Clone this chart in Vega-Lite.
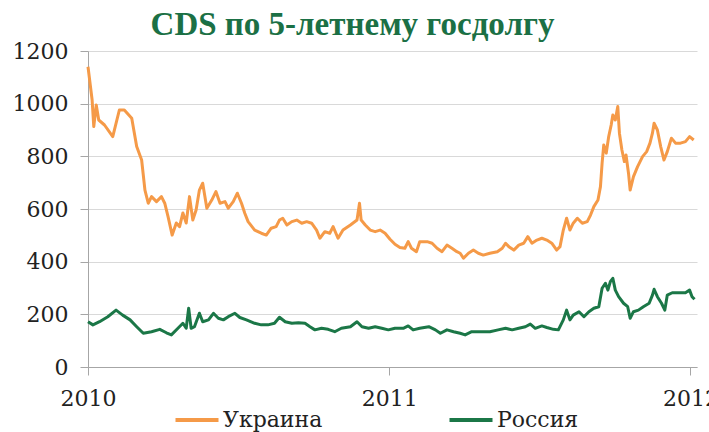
{
  "$schema": "https://vega.github.io/schema/vega-lite/v6.json",
  "autosize": {"type": "none"},
  "padding": {"left": 88, "top": 51, "right": 12, "bottom": 65},
  "width": 609,
  "height": 316,
  "background": "white",
  "title": {"text": "CDS по 5-летнему госдолгу", "font": "Liberation Serif", "fontSize": 33, "fontWeight": "bold", "color": "#1B7045", "anchor": "middle", "frame": "group", "dx": -40, "offset": -2},
  "data": {"values": [
    {"date":"2010-01-01","series":"Украина","cds":1140},
    {"date":"2010-01-06","series":"Украина","cds":1014},
    {"date":"2010-01-08","series":"Украина","cds":913},
    {"date":"2010-01-11","series":"Украина","cds":995},
    {"date":"2010-01-14","series":"Украина","cds":938},
    {"date":"2010-01-21","series":"Украина","cds":919},
    {"date":"2010-01-31","series":"Украина","cds":875},
    {"date":"2010-02-08","series":"Украина","cds":976},
    {"date":"2010-02-14","series":"Украина","cds":976},
    {"date":"2010-02-23","series":"Украина","cds":945},
    {"date":"2010-03-01","series":"Украина","cds":837},
    {"date":"2010-03-07","series":"Украина","cds":786},
    {"date":"2010-03-11","series":"Украина","cds":672},
    {"date":"2010-03-15","series":"Украина","cds":622},
    {"date":"2010-03-19","series":"Украина","cds":647},
    {"date":"2010-03-25","series":"Украина","cds":628},
    {"date":"2010-03-31","series":"Украина","cds":647},
    {"date":"2010-04-04","series":"Украина","cds":622},
    {"date":"2010-04-08","series":"Украина","cds":571},
    {"date":"2010-04-13","series":"Украина","cds":501},
    {"date":"2010-04-18","series":"Украина","cds":547},
    {"date":"2010-04-22","series":"Украина","cds":533},
    {"date":"2010-04-26","series":"Украина","cds":585},
    {"date":"2010-04-30","series":"Украина","cds":547},
    {"date":"2010-05-04","series":"Украина","cds":647},
    {"date":"2010-05-08","series":"Украина","cds":558},
    {"date":"2010-05-12","series":"Украина","cds":596},
    {"date":"2010-05-16","series":"Украина","cds":672},
    {"date":"2010-05-20","series":"Украина","cds":698},
    {"date":"2010-05-25","series":"Украина","cds":603},
    {"date":"2010-05-31","series":"Украина","cds":634},
    {"date":"2010-06-05","series":"Украина","cds":666},
    {"date":"2010-06-10","series":"Украина","cds":622},
    {"date":"2010-06-16","series":"Украина","cds":628},
    {"date":"2010-06-20","series":"Украина","cds":603},
    {"date":"2010-06-26","series":"Украина","cds":628},
    {"date":"2010-07-01","series":"Украина","cds":660},
    {"date":"2010-07-06","series":"Украина","cds":622},
    {"date":"2010-07-10","series":"Украина","cds":584},
    {"date":"2010-07-14","series":"Украина","cds":552},
    {"date":"2010-07-22","series":"Украина","cds":520},
    {"date":"2010-07-30","series":"Украина","cds":508},
    {"date":"2010-08-05","series":"Украина","cds":501},
    {"date":"2010-08-11","series":"Украина","cds":527},
    {"date":"2010-08-17","series":"Украина","cds":533},
    {"date":"2010-08-21","series":"Украина","cds":558},
    {"date":"2010-08-25","series":"Украина","cds":565},
    {"date":"2010-08-30","series":"Украина","cds":539},
    {"date":"2010-09-05","series":"Украина","cds":552},
    {"date":"2010-09-11","series":"Украина","cds":558},
    {"date":"2010-09-17","series":"Украина","cds":546},
    {"date":"2010-09-23","series":"Украина","cds":552},
    {"date":"2010-09-29","series":"Украина","cds":546},
    {"date":"2010-10-05","series":"Украина","cds":520},
    {"date":"2010-10-09","series":"Украина","cds":489},
    {"date":"2010-10-15","series":"Украина","cds":514},
    {"date":"2010-10-21","series":"Украина","cds":508},
    {"date":"2010-10-25","series":"Украина","cds":533},
    {"date":"2010-10-31","series":"Украина","cds":489},
    {"date":"2010-11-06","series":"Украина","cds":520},
    {"date":"2010-11-15","series":"Украина","cds":539},
    {"date":"2010-11-23","series":"Украина","cds":558},
    {"date":"2010-11-26","series":"Украина","cds":622},
    {"date":"2010-11-28","series":"Украина","cds":558},
    {"date":"2010-12-03","series":"Украина","cds":539},
    {"date":"2010-12-09","series":"Украина","cds":520},
    {"date":"2010-12-15","series":"Украина","cds":514},
    {"date":"2010-12-21","series":"Украина","cds":520},
    {"date":"2010-12-27","series":"Украина","cds":508},
    {"date":"2011-01-02","series":"Украина","cds":485},
    {"date":"2011-01-08","series":"Украина","cds":466},
    {"date":"2011-01-14","series":"Украина","cds":454},
    {"date":"2011-01-20","series":"Украина","cds":451},
    {"date":"2011-01-24","series":"Украина","cds":476},
    {"date":"2011-01-28","series":"Украина","cds":451},
    {"date":"2011-02-03","series":"Украина","cds":438},
    {"date":"2011-02-07","series":"Украина","cds":476},
    {"date":"2011-02-16","series":"Украина","cds":476},
    {"date":"2011-02-22","series":"Украина","cds":470},
    {"date":"2011-02-28","series":"Украина","cds":451},
    {"date":"2011-03-06","series":"Украина","cds":438},
    {"date":"2011-03-12","series":"Украина","cds":463},
    {"date":"2011-03-18","series":"Украина","cds":451},
    {"date":"2011-03-24","series":"Украина","cds":438},
    {"date":"2011-03-28","series":"Украина","cds":432},
    {"date":"2011-04-01","series":"Украина","cds":413},
    {"date":"2011-04-07","series":"Украина","cds":432},
    {"date":"2011-04-13","series":"Украина","cds":444},
    {"date":"2011-04-19","series":"Украина","cds":432},
    {"date":"2011-04-25","series":"Украина","cds":425},
    {"date":"2011-05-03","series":"Украина","cds":432},
    {"date":"2011-05-12","series":"Украина","cds":438},
    {"date":"2011-05-18","series":"Украина","cds":451},
    {"date":"2011-05-22","series":"Украина","cds":470},
    {"date":"2011-05-26","series":"Украина","cds":457},
    {"date":"2011-06-01","series":"Украина","cds":444},
    {"date":"2011-06-07","series":"Украина","cds":463},
    {"date":"2011-06-13","series":"Украина","cds":470},
    {"date":"2011-06-18","series":"Украина","cds":495},
    {"date":"2011-06-23","series":"Украина","cds":470},
    {"date":"2011-06-29","series":"Украина","cds":482},
    {"date":"2011-07-05","series":"Украина","cds":489},
    {"date":"2011-07-11","series":"Украина","cds":482},
    {"date":"2011-07-17","series":"Украина","cds":470},
    {"date":"2011-07-23","series":"Украина","cds":444},
    {"date":"2011-07-27","series":"Украина","cds":457},
    {"date":"2011-07-31","series":"Украина","cds":520},
    {"date":"2011-08-04","series":"Украина","cds":565},
    {"date":"2011-08-08","series":"Украина","cds":520},
    {"date":"2011-08-12","series":"Украина","cds":546},
    {"date":"2011-08-17","series":"Украина","cds":565},
    {"date":"2011-08-23","series":"Украина","cds":546},
    {"date":"2011-08-29","series":"Украина","cds":552},
    {"date":"2011-09-02","series":"Украина","cds":577},
    {"date":"2011-09-06","series":"Украина","cds":609},
    {"date":"2011-09-11","series":"Украина","cds":634},
    {"date":"2011-09-14","series":"Украина","cds":685},
    {"date":"2011-09-16","series":"Украина","cds":774},
    {"date":"2011-09-18","series":"Украина","cds":843},
    {"date":"2011-09-21","series":"Украина","cds":812},
    {"date":"2011-09-24","series":"Украина","cds":875},
    {"date":"2011-09-27","series":"Украина","cds":919},
    {"date":"2011-09-29","series":"Украина","cds":957},
    {"date":"2011-10-02","series":"Украина","cds":938},
    {"date":"2011-10-05","series":"Украина","cds":989},
    {"date":"2011-10-07","series":"Украина","cds":888},
    {"date":"2011-10-10","series":"Украина","cds":824},
    {"date":"2011-10-13","series":"Украина","cds":780},
    {"date":"2011-10-15","series":"Украина","cds":805},
    {"date":"2011-10-18","series":"Украина","cds":736},
    {"date":"2011-10-20","series":"Украина","cds":672},
    {"date":"2011-10-24","series":"Украина","cds":723},
    {"date":"2011-10-29","series":"Украина","cds":761},
    {"date":"2011-11-04","series":"Украина","cds":799},
    {"date":"2011-11-09","series":"Украина","cds":818},
    {"date":"2011-11-13","series":"Украина","cds":850},
    {"date":"2011-11-16","series":"Украина","cds":888},
    {"date":"2011-11-18","series":"Украина","cds":926},
    {"date":"2011-11-22","series":"Украина","cds":900},
    {"date":"2011-11-26","series":"Украина","cds":837},
    {"date":"2011-11-30","series":"Украина","cds":786},
    {"date":"2011-12-04","series":"Украина","cds":818},
    {"date":"2011-12-09","series":"Украина","cds":869},
    {"date":"2011-12-14","series":"Украина","cds":850},
    {"date":"2011-12-20","series":"Украина","cds":850},
    {"date":"2011-12-26","series":"Украина","cds":856},
    {"date":"2011-12-31","series":"Украина","cds":875},
    {"date":"2012-01-05","series":"Украина","cds":862},
    {"date":"2010-01-01","series":"Россия","cds":172},
    {"date":"2010-01-07","series":"Россия","cds":160},
    {"date":"2010-01-15","series":"Россия","cds":172},
    {"date":"2010-01-25","series":"Россия","cds":191},
    {"date":"2010-02-04","series":"Россия","cds":216},
    {"date":"2010-02-12","series":"Россия","cds":197},
    {"date":"2010-02-21","series":"Россия","cds":179},
    {"date":"2010-03-01","series":"Россия","cds":153},
    {"date":"2010-03-09","series":"Россия","cds":128},
    {"date":"2010-03-19","series":"Россия","cds":134},
    {"date":"2010-03-29","series":"Россия","cds":143},
    {"date":"2010-04-06","series":"Россия","cds":130},
    {"date":"2010-04-12","series":"Россия","cds":122},
    {"date":"2010-04-20","series":"Россия","cds":147},
    {"date":"2010-04-26","series":"Россия","cds":166},
    {"date":"2010-04-30","series":"Россия","cds":147},
    {"date":"2010-05-03","series":"Россия","cds":223},
    {"date":"2010-05-06","series":"Россия","cds":147},
    {"date":"2010-05-10","series":"Россия","cds":153},
    {"date":"2010-05-16","series":"Россия","cds":204},
    {"date":"2010-05-20","series":"Россия","cds":172},
    {"date":"2010-05-27","series":"Россия","cds":179},
    {"date":"2010-06-02","series":"Россия","cds":204},
    {"date":"2010-06-08","series":"Россия","cds":185},
    {"date":"2010-06-14","series":"Россия","cds":179},
    {"date":"2010-06-20","series":"Россия","cds":191},
    {"date":"2010-06-28","series":"Россия","cds":204},
    {"date":"2010-07-04","series":"Россия","cds":188},
    {"date":"2010-07-12","series":"Россия","cds":179},
    {"date":"2010-07-22","series":"Россия","cds":166},
    {"date":"2010-07-30","series":"Россия","cds":160},
    {"date":"2010-08-07","series":"Россия","cds":160},
    {"date":"2010-08-15","series":"Россия","cds":166},
    {"date":"2010-08-21","series":"Россия","cds":189},
    {"date":"2010-08-28","series":"Россия","cds":172},
    {"date":"2010-09-05","series":"Россия","cds":166},
    {"date":"2010-09-13","series":"Россия","cds":168},
    {"date":"2010-09-21","series":"Россия","cds":166},
    {"date":"2010-09-27","series":"Россия","cds":153},
    {"date":"2010-10-03","series":"Россия","cds":141},
    {"date":"2010-10-11","series":"Россия","cds":147},
    {"date":"2010-10-19","series":"Россия","cds":143},
    {"date":"2010-10-27","series":"Россия","cds":134},
    {"date":"2010-11-04","series":"Россия","cds":147},
    {"date":"2010-11-15","series":"Россия","cds":153},
    {"date":"2010-11-23","series":"Россия","cds":172},
    {"date":"2010-11-29","series":"Россия","cds":153},
    {"date":"2010-12-07","series":"Россия","cds":147},
    {"date":"2010-12-15","series":"Россия","cds":153},
    {"date":"2010-12-23","series":"Россия","cds":147},
    {"date":"2010-12-31","series":"Россия","cds":141},
    {"date":"2011-01-08","series":"Россия","cds":147},
    {"date":"2011-01-18","series":"Россия","cds":147},
    {"date":"2011-01-24","series":"Россия","cds":156},
    {"date":"2011-01-30","series":"Россия","cds":141},
    {"date":"2011-02-07","series":"Россия","cds":147},
    {"date":"2011-02-18","series":"Россия","cds":153},
    {"date":"2011-02-26","series":"Россия","cds":141},
    {"date":"2011-03-04","series":"Россия","cds":128},
    {"date":"2011-03-12","series":"Россия","cds":141},
    {"date":"2011-03-20","series":"Россия","cds":134},
    {"date":"2011-03-28","series":"Россия","cds":128},
    {"date":"2011-04-03","series":"Россия","cds":122},
    {"date":"2011-04-11","series":"Россия","cds":134},
    {"date":"2011-04-21","series":"Россия","cds":134},
    {"date":"2011-05-03","series":"Россия","cds":134},
    {"date":"2011-05-13","series":"Россия","cds":141},
    {"date":"2011-05-22","series":"Россия","cds":147},
    {"date":"2011-05-30","series":"Россия","cds":141},
    {"date":"2011-06-07","series":"Россия","cds":147},
    {"date":"2011-06-15","series":"Россия","cds":153},
    {"date":"2011-06-21","series":"Россия","cds":163},
    {"date":"2011-06-27","series":"Россия","cds":147},
    {"date":"2011-07-05","series":"Россия","cds":156},
    {"date":"2011-07-11","series":"Россия","cds":150},
    {"date":"2011-07-19","series":"Россия","cds":143},
    {"date":"2011-07-25","series":"Россия","cds":141},
    {"date":"2011-07-31","series":"Россия","cds":179},
    {"date":"2011-08-04","series":"Россия","cds":216},
    {"date":"2011-08-08","series":"Россия","cds":179},
    {"date":"2011-08-12","series":"Россия","cds":197},
    {"date":"2011-08-19","series":"Россия","cds":210},
    {"date":"2011-08-25","series":"Россия","cds":191},
    {"date":"2011-08-31","series":"Россия","cds":210},
    {"date":"2011-09-06","series":"Россия","cds":223},
    {"date":"2011-09-12","series":"Россия","cds":229},
    {"date":"2011-09-16","series":"Россия","cds":299},
    {"date":"2011-09-20","series":"Россия","cds":318},
    {"date":"2011-09-23","series":"Россия","cds":292},
    {"date":"2011-09-26","series":"Россия","cds":324},
    {"date":"2011-09-29","series":"Россия","cds":337},
    {"date":"2011-10-02","series":"Россия","cds":292},
    {"date":"2011-10-06","series":"Россия","cds":267},
    {"date":"2011-10-12","series":"Россия","cds":242},
    {"date":"2011-10-17","series":"Россия","cds":229},
    {"date":"2011-10-20","series":"Россия","cds":185},
    {"date":"2011-10-24","series":"Россия","cds":210},
    {"date":"2011-10-30","series":"Россия","cds":216},
    {"date":"2011-11-05","series":"Россия","cds":229},
    {"date":"2011-11-12","series":"Россия","cds":242},
    {"date":"2011-11-16","series":"Россия","cds":273},
    {"date":"2011-11-18","series":"Россия","cds":295},
    {"date":"2011-11-22","series":"Россия","cds":267},
    {"date":"2011-11-27","series":"Россия","cds":242},
    {"date":"2011-12-01","series":"Россия","cds":216},
    {"date":"2011-12-04","series":"Россия","cds":273},
    {"date":"2011-12-10","series":"Россия","cds":282},
    {"date":"2011-12-18","series":"Россия","cds":282},
    {"date":"2011-12-26","series":"Россия","cds":282},
    {"date":"2011-12-31","series":"Россия","cds":292},
    {"date":"2012-01-03","series":"Россия","cds":267},
    {"date":"2012-01-06","series":"Россия","cds":257}
  ]},
  "mark": {"type": "line", "strokeWidth": 3, "strokeJoin": "round"},
  "encoding": {
    "x": {
      "field": "date", "type": "temporal", "title": null,
      "scale": {"type": "utc", "domain": [{"year": 2010, "month": 1, "date": 1, "utc": true}, {"year": 2012, "month": 1, "date": 9, "utc": true}]},
      "axis": {
        "values": [{"year": 2010, "month": 1, "date": 1, "utc": true}, {"year": 2011, "month": 1, "date": 1, "utc": true}, {"year": 2012, "month": 1, "date": 1, "utc": true}],
        "format": "%Y", "formatType": "utc", "grid": false, "domainColor": "#a6a6a6", "tickColor": "#a6a6a6", "tickSize": 8,
        "labelFont": "DejaVu Serif", "labelFontSize": 22, "labelColor": "#222222", "labelPadding": 13, "labelOverlap": false, "labelFlush": false, "labelBound": false
      }
    },
    "y": {
      "field": "cds", "type": "quantitative", "title": null,
      "scale": {"domain": [0, 1200], "nice": false, "zero": true},
      "axis": {
        "values": [0, 200, 400, 600, 800, 1000, 1200], "format": "d",
        "grid": true, "gridColor": "#d9d9d9", "gridWidth": 1, "domainColor": "#a6a6a6", "tickColor": "#a6a6a6", "tickSize": 8,
        "labelFont": "DejaVu Serif", "labelFontSize": 22, "labelColor": "#222222", "labelPadding": 12
      }
    },
    "color": {
      "field": "series", "type": "nominal",
      "scale": {"domain": ["Украина", "Россия"], "range": ["#F59A48", "#1B7747"]},
      "legend": {
        "title": null, "orient": "none", "legendX": 85, "legendY": 345, "direction": "horizontal",
        "symbolType": "stroke", "symbolSize": 1850, "symbolStrokeWidth": 4,
        "labelFont": "DejaVu Serif", "labelFontSize": 22, "labelColor": "#222222", "labelOffset": 2, "columnPadding": 118
      }
    }
  },
  "config": {"view": {"stroke": null}}
}
